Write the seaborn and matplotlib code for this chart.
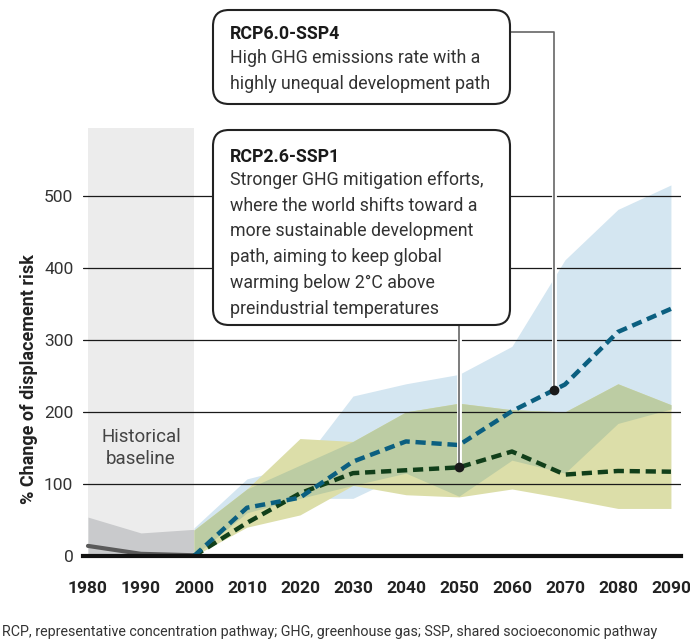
import numpy as np
import matplotlib
matplotlib.use("Agg")
import matplotlib.pyplot as plt
import matplotlib.patheffects as pe
from matplotlib.patches import FancyBboxPatch
from matplotlib.transforms import IdentityTransform
import seaborn as sns

# historical baseline
hist_years = [1980, 1990, 2000]
hist_upper = [54, 32, 37]
hist_line = [14, 3, 1]

# projections
years = [2000, 2010, 2020, 2030, 2040, 2050, 2060, 2070, 2080, 2090]
ssp4_upper = [39, 107, 126, 222, 239, 252, 291, 411, 481, 515]
ssp4_lower = [0, 60, 80, 80, 115, 83, 133, 115, 184, 204]
ssp4_mid = [0, 67, 81, 131, 159, 154, 201, 238, 311, 343]
ssp1_upper = [36, 93, 163, 159, 200, 212, 203, 200, 239, 210]
ssp1_lower = [0, 40, 57, 98, 85, 82, 93, 80, 66, 66]
ssp1_mid = [0, 46, 87, 115, 119, 123, 145, 113, 118, 117]

xticks = list(range(1980, 2100, 10))
yticks = [0, 100, 200, 300, 400, 500]

sns.set_style("white")
plt.rcParams["font.family"] = ["Roboto", "DejaVu Sans"]

W, H = 690, 641
fig = plt.figure(figsize=(W / 100, H / 100), dpi=100)
ax = fig.add_axes([83 / W, 85 / H, 598 / W, 428 / H])
ax.set_xlim(1979.06, 2091.9)
ax.set_ylim(0, 594)

BLUE_BAND = "#d4e6f1"
YEL_BAND = "#dcdea9"
OVERLAP = "#bccca3"
TXT = "#333333"

# historical background
ax.axvspan(1980, 2000, color="#ececec", lw=0, zorder=0)
ax.fill_between(hist_years, 0, hist_upper, color="#c9cacc", lw=0, zorder=1)
sns.lineplot(x=hist_years, y=hist_line, ax=ax, color="#5a5a5a", lw=3, zorder=2)

# bands
ax.fill_between(years, ssp4_lower, ssp4_upper, color=BLUE_BAND, lw=0, zorder=1)
ax.fill_between(years, ssp1_lower, ssp1_upper, color=YEL_BAND, lw=0, zorder=1)
ov_lo = np.maximum(ssp4_lower, ssp1_lower)
ov_hi = np.minimum(ssp4_upper, ssp1_upper)
ax.fill_between(years, ov_lo, ov_hi, where=ov_hi > ov_lo, interpolate=True,
                color=OVERLAP, lw=0, zorder=1)

# grid
for y in yticks[1:]:
    ax.axhline(y, color="#1a1a1a", lw=0.9, zorder=3)

# lines
sns.lineplot(x=years, y=ssp1_mid, ax=ax, color="#113f1a", lw=3.2,
             ls=(0, (2.3, 1.3)), zorder=4)
sns.lineplot(x=years, y=ssp4_mid, ax=ax, color="#0b5f80", lw=3.2,
             ls=(0, (2.3, 1.3)), zorder=4)

# axes styling
for s in ["top", "right", "left"]:
    ax.spines[s].set_visible(False)
ax.spines["bottom"].set_linewidth(3)
ax.spines["bottom"].set_color("#111111")
ax.spines["bottom"].set_zorder(5)
ax.set_xticks(xticks)
ax.set_yticks(yticks)
ax.tick_params(axis="x", direction="out", length=11, width=1, color="#222222",
               pad=7, labelsize=12.5, labelcolor="#222222")
ax.tick_params(axis="y", length=0, pad=7, labelsize=12.5, labelcolor=TXT)
for t in ax.get_xticklabels():
    t.set_fontweight("bold")
ax.set_ylabel("% Change of displacement risk", fontsize=13, fontweight="bold",
              color="#222222")
ax.yaxis.set_label_coords(-0.075, 0.414)

ax.text(1990, 150, "Historical\nbaseline", ha="center", va="center",
        fontsize=13.5, color="#444444", linespacing=1.3, zorder=3)

fig.canvas.draw()


# annotation boxes (pixel layout, y from top)
def box(x0, y0, x1, y1):
    p = FancyBboxPatch((x0, H - y1), x1 - x0, y1 - y0,
                       boxstyle="round,pad=0,rounding_size=16",
                       transform=IdentityTransform(), fc="white",
                       ec="#222222", lw=1.5, zorder=10)
    fig.patches.append(p)


box(213, 10, 510, 104)
box(213, 130, 510, 325)

fig.text(230 / W, 1 - 25 / H, "RCP6.0-SSP4", fontsize=12.8, fontweight="bold",
         color="#1a1a1a", va="top", ha="left", zorder=11)
fig.text(230 / W, 1 - 49 / H,
         "High GHG emissions rate with a\nhighly unequal development path",
         fontsize=12.8, color=TXT, va="top", ha="left", linespacing=1.58,
         zorder=11)
fig.text(230 / W, 1 - 148 / H, "RCP2.6-SSP1", fontsize=12.8, fontweight="bold",
         color="#1a1a1a", va="top", ha="left", zorder=11)
fig.text(230 / W, 1 - 171 / H,
         "Stronger GHG mitigation efforts,\nwhere the world shifts toward a\n"
         "more sustainable development\npath, aiming to keep global\n"
         "warming below 2°C above\npreindustrial temperatures",
         fontsize=12.8, color=TXT, va="top", ha="left", linespacing=1.55,
         zorder=11)

# connectors to the lines
inv = ax.transData.inverted()
stroke = [pe.Stroke(linewidth=3.5, foreground="white"), pe.Normal()]

x4 = 2068
y4 = np.interp(x4, years, ssp4_mid)
bx, by = inv.transform((510, H - 32))
ax.plot([bx, x4, x4], [by, by, y4], color="#666666", lw=1.2, clip_on=False,
        zorder=6, path_effects=stroke)
ax.plot([x4], [y4], "o", color="#1a1a1a", ms=6, zorder=7)

x1 = 2050
y1 = np.interp(x1, years, ssp1_mid)
_, by2 = inv.transform((0, H - 325))
ax.plot([x1, x1], [by2, y1], color="#666666", lw=1.2, clip_on=False,
        zorder=6, path_effects=stroke)
ax.plot([x1], [y1], "o", color="#1a1a1a", ms=6, zorder=7)

fig.text(2 / W, 1 - 632 / H,
         "RCP, representative concentration pathway; GHG, greenhouse gas; "
         "SSP, shared socioeconomic pathway",
         fontsize=10.3, color=TXT, va="center", ha="left")

fig.savefig("out.png", dpi=100)
